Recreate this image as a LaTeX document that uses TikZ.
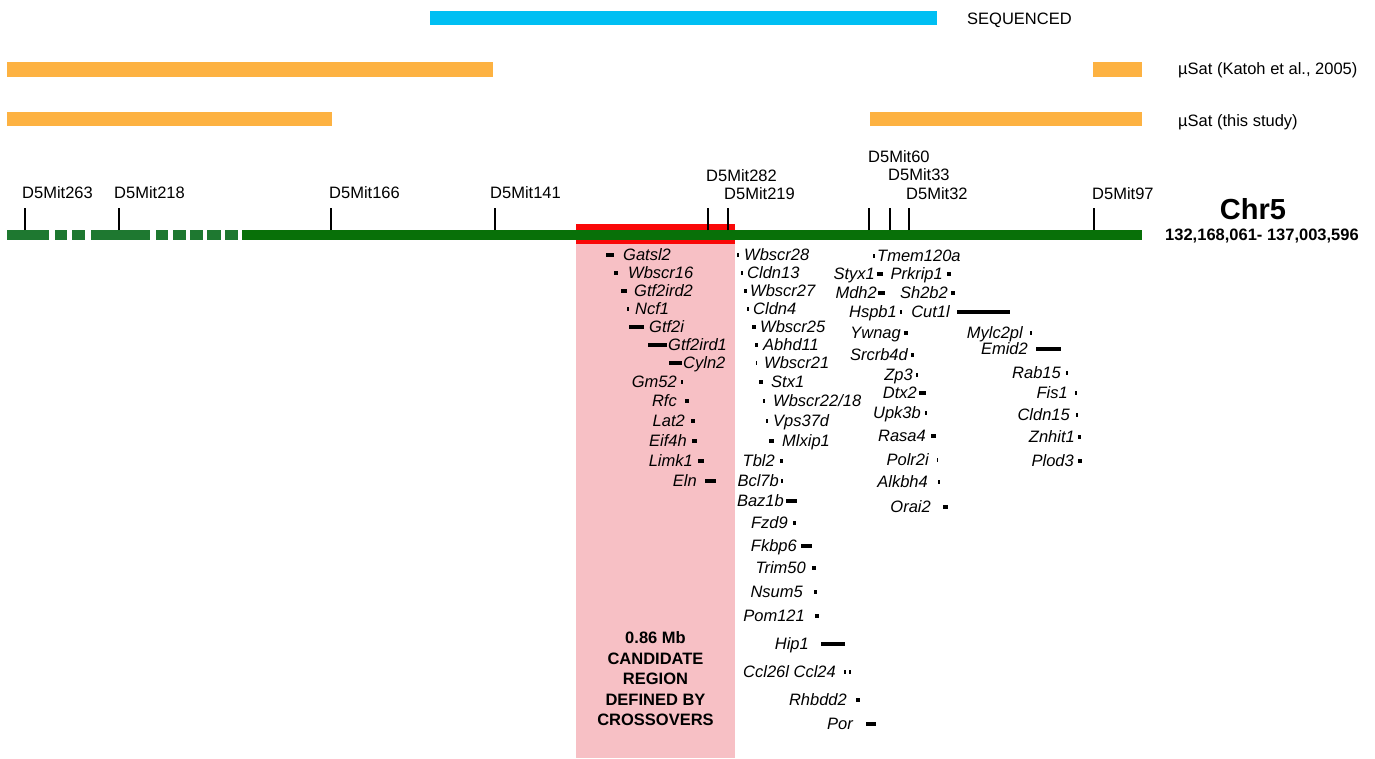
\documentclass[tikz,border=0pt]{standalone}
\usepackage{fontspec}
\setmainfont{Liberation Sans}
\definecolor{seqblue}{RGB}{0,191,243}
\definecolor{satorange}{RGB}{253,178,66}
\definecolor{chrgreen}{RGB}{8,112,8}
\definecolor{dashgreen}{RGB}{30,120,48}
\definecolor{candred}{RGB}{250,8,8}
\definecolor{candpink}{RGB}{247,192,197}
\tikzset{
  gene/.style={font=\fontsize{16.5}{18}\selectfont\itshape, inner sep=0pt, text height=11.8pt, text depth=0pt},
  lbl/.style={font=\fontsize{16.5}{18}\selectfont, inner sep=0pt, text height=11.8pt, text depth=0pt, anchor=west},
  tick/.style={draw=black, line width=1.6pt},
}
\begin{document}
\begin{tikzpicture}[x=1pt,y=-1pt]
\useasboundingbox (0,0) rectangle (1375,758);
% legend bars
\fill[seqblue] (430,11) rectangle (937,25);
\fill[satorange] (7,62) rectangle (493,77);
\fill[satorange] (1093,62) rectangle (1142,77);
\fill[satorange] (7,112) rectangle (332,126);
\fill[satorange] (870,112) rectangle (1142,126);
\node[lbl] (lseq) at (967,19) {SEQUENCED};
\node[lbl] (lkat) at (1178,69) {µSat (Katoh et al., 2005)};
\node[lbl] (lthis) at (1178,121) {µSat (this study)};
% candidate region
\fill[candpink] (576,244) rectangle (735,758);
\fill[candred] (576,224) rectangle (735,244);
% chromosome
\foreach \a/\b in {7/49,55/67,72/85,91/150,156/168,173/186,190/203,207/221,225/238}
  \fill[dashgreen] (\a,230) rectangle (\b,240);
\fill[chrgreen] (242,230) rectangle (1142,240);
% markers
\foreach \x/\lx/\ly/\t in {25/22/193/D5Mit263,119/114/193/D5Mit218,331/329/193/D5Mit166,495/490/193/D5Mit141,708/706/176/D5Mit282,728/724/194/D5Mit219,869/868/157/D5Mit60,890/888/175/D5Mit33,909/906/194/D5Mit32,1094/1092/194/D5Mit97}{
  \coordinate (m\t) at (\x,230);
  \coordinate (mt\t) at (\x,208);
  \draw[tick] (m\t) -- (mt\t);
  \node[lbl] (n\t) at (\lx,\ly) {\t};
}
\node[font=\fontsize{29}{32}\selectfont\bfseries, inner sep=0pt] (chr) at (1253,209) {Chr5};
\node[font=\fontsize{16.5}{18}\selectfont\bfseries, inner sep=0pt] (coords) at (1262,236) {132,168,061- 137,003,596};
\node[font=\fontsize{16.5}{20.5}\selectfont\bfseries, align=center, inner sep=0pt] (cand) at (655.5,679) {0.86 Mb\\CANDIDATE\\REGION\\DEFINED BY\\CROSSOVERS};
% genes
\foreach \x/\y/\a/\t/\ra/\rb [count=\i] in {
  623/255/west/Gatsl2/606/614,
  628/273/west/Wbscr16/614/618,
  634/291/west/Gtf2ird2/621/627,
  635/309/west/Ncf1/627/629,
  649/327/west/Gtf2i/629/644,
  668/345/west/Gtf2ird1/648/667,
  683/363/west/Cyln2/669/682,
  677/382/east/Gm52/681/683,
  677/401/east/Rfc/685/689,
  685/421/east/Lat2/691/695,
  687/441/east/Eif4h/692/697,
  693/461/east/Limk1/698/704,
  697/481/east/Eln/705/716,
  744/255/west/Wbscr28/737/739,
  747/273/west/Cldn13/741/742.5,
  750/291/west/Wbscr27/744/747,
  753/309/west/Cldn4/747/749,
  760/327/west/Wbscr25/752/756,
  763/345/west/Abhd11/755/758,
  764/363/west/Wbscr21/755.5/757,
  771/382/west/Stx1/759/763,
  773/421/west/Vps37d/766/767.5,
  782/441/west/Mlxip1/769/774,
  775/461/east/Tbl2/780/783,
  779/481/east/Bcl7b/781/783,
  784/501/east/Baz1b/786/797,
  788/523/east/Fzd9/793/796,
  797/546/east/Fkbp6/801/812,
  806/568/east/Trim50/812/816,
  803/592/east/Nsum5/814/817,
  805/616/east/Pom121/815/819,
  809/644/east/Hip1/821/845,
  836/672/east/Ccl26l Ccl24/844/846,
  847/700/east/Rhbdd2/856/860,
  853/724/east/Por/866/876,
  877/256/west/Tmem120a/873/875,
  875/274/east/Styx1/877/883,
  943/274/east/Prkrip1/947/951,
  877/293/east/Mdh2/878/885,
  948/293/east/Sh2b2/951/955,
  897/312/east/Hspb1/900/902,
  950/312/east/Cut1l/957/1010,
  901/333/east/Ywnag/904/908,
  908/355/east/Srcrb4d/911/914,
  913/375/east/Zp3/916/918,
  917/393/east/Dtx2/919/926,
  921/413/east/Upk3b/925/927,
  926/436/east/Rasa4/931/936,
  929/460/east/Polr2i/937/938,
  928/482/east/Alkbh4/938/940,
  931/507/east/Orai2/943/948,
  1023/333/east/Mylc2pl/1030/1032,
  1028/349/east/Emid2/1036/1061,
  1061/373/east/Rab15/1066/1068,
  1068/393/east/Fis1/1075/1077,
  1070/415/east/Cldn15/1076/1078,
  1075/437/east/Znhit1/1078/1081,
  1074/461/east/Plod3/1078/1082}{
  \node[gene, anchor=\a] (g\i) at (\x,\y) {\t};
  \fill (\ra,\y-2) rectangle (\rb,\y+2);
}
\fill (849,670) rectangle (851,674);
\node[gene, anchor=west] (gWbscr2218) at (773,401) {Wbscr22/18};
\fill (763,399) rectangle (765,403);
\end{tikzpicture}
\end{document}
